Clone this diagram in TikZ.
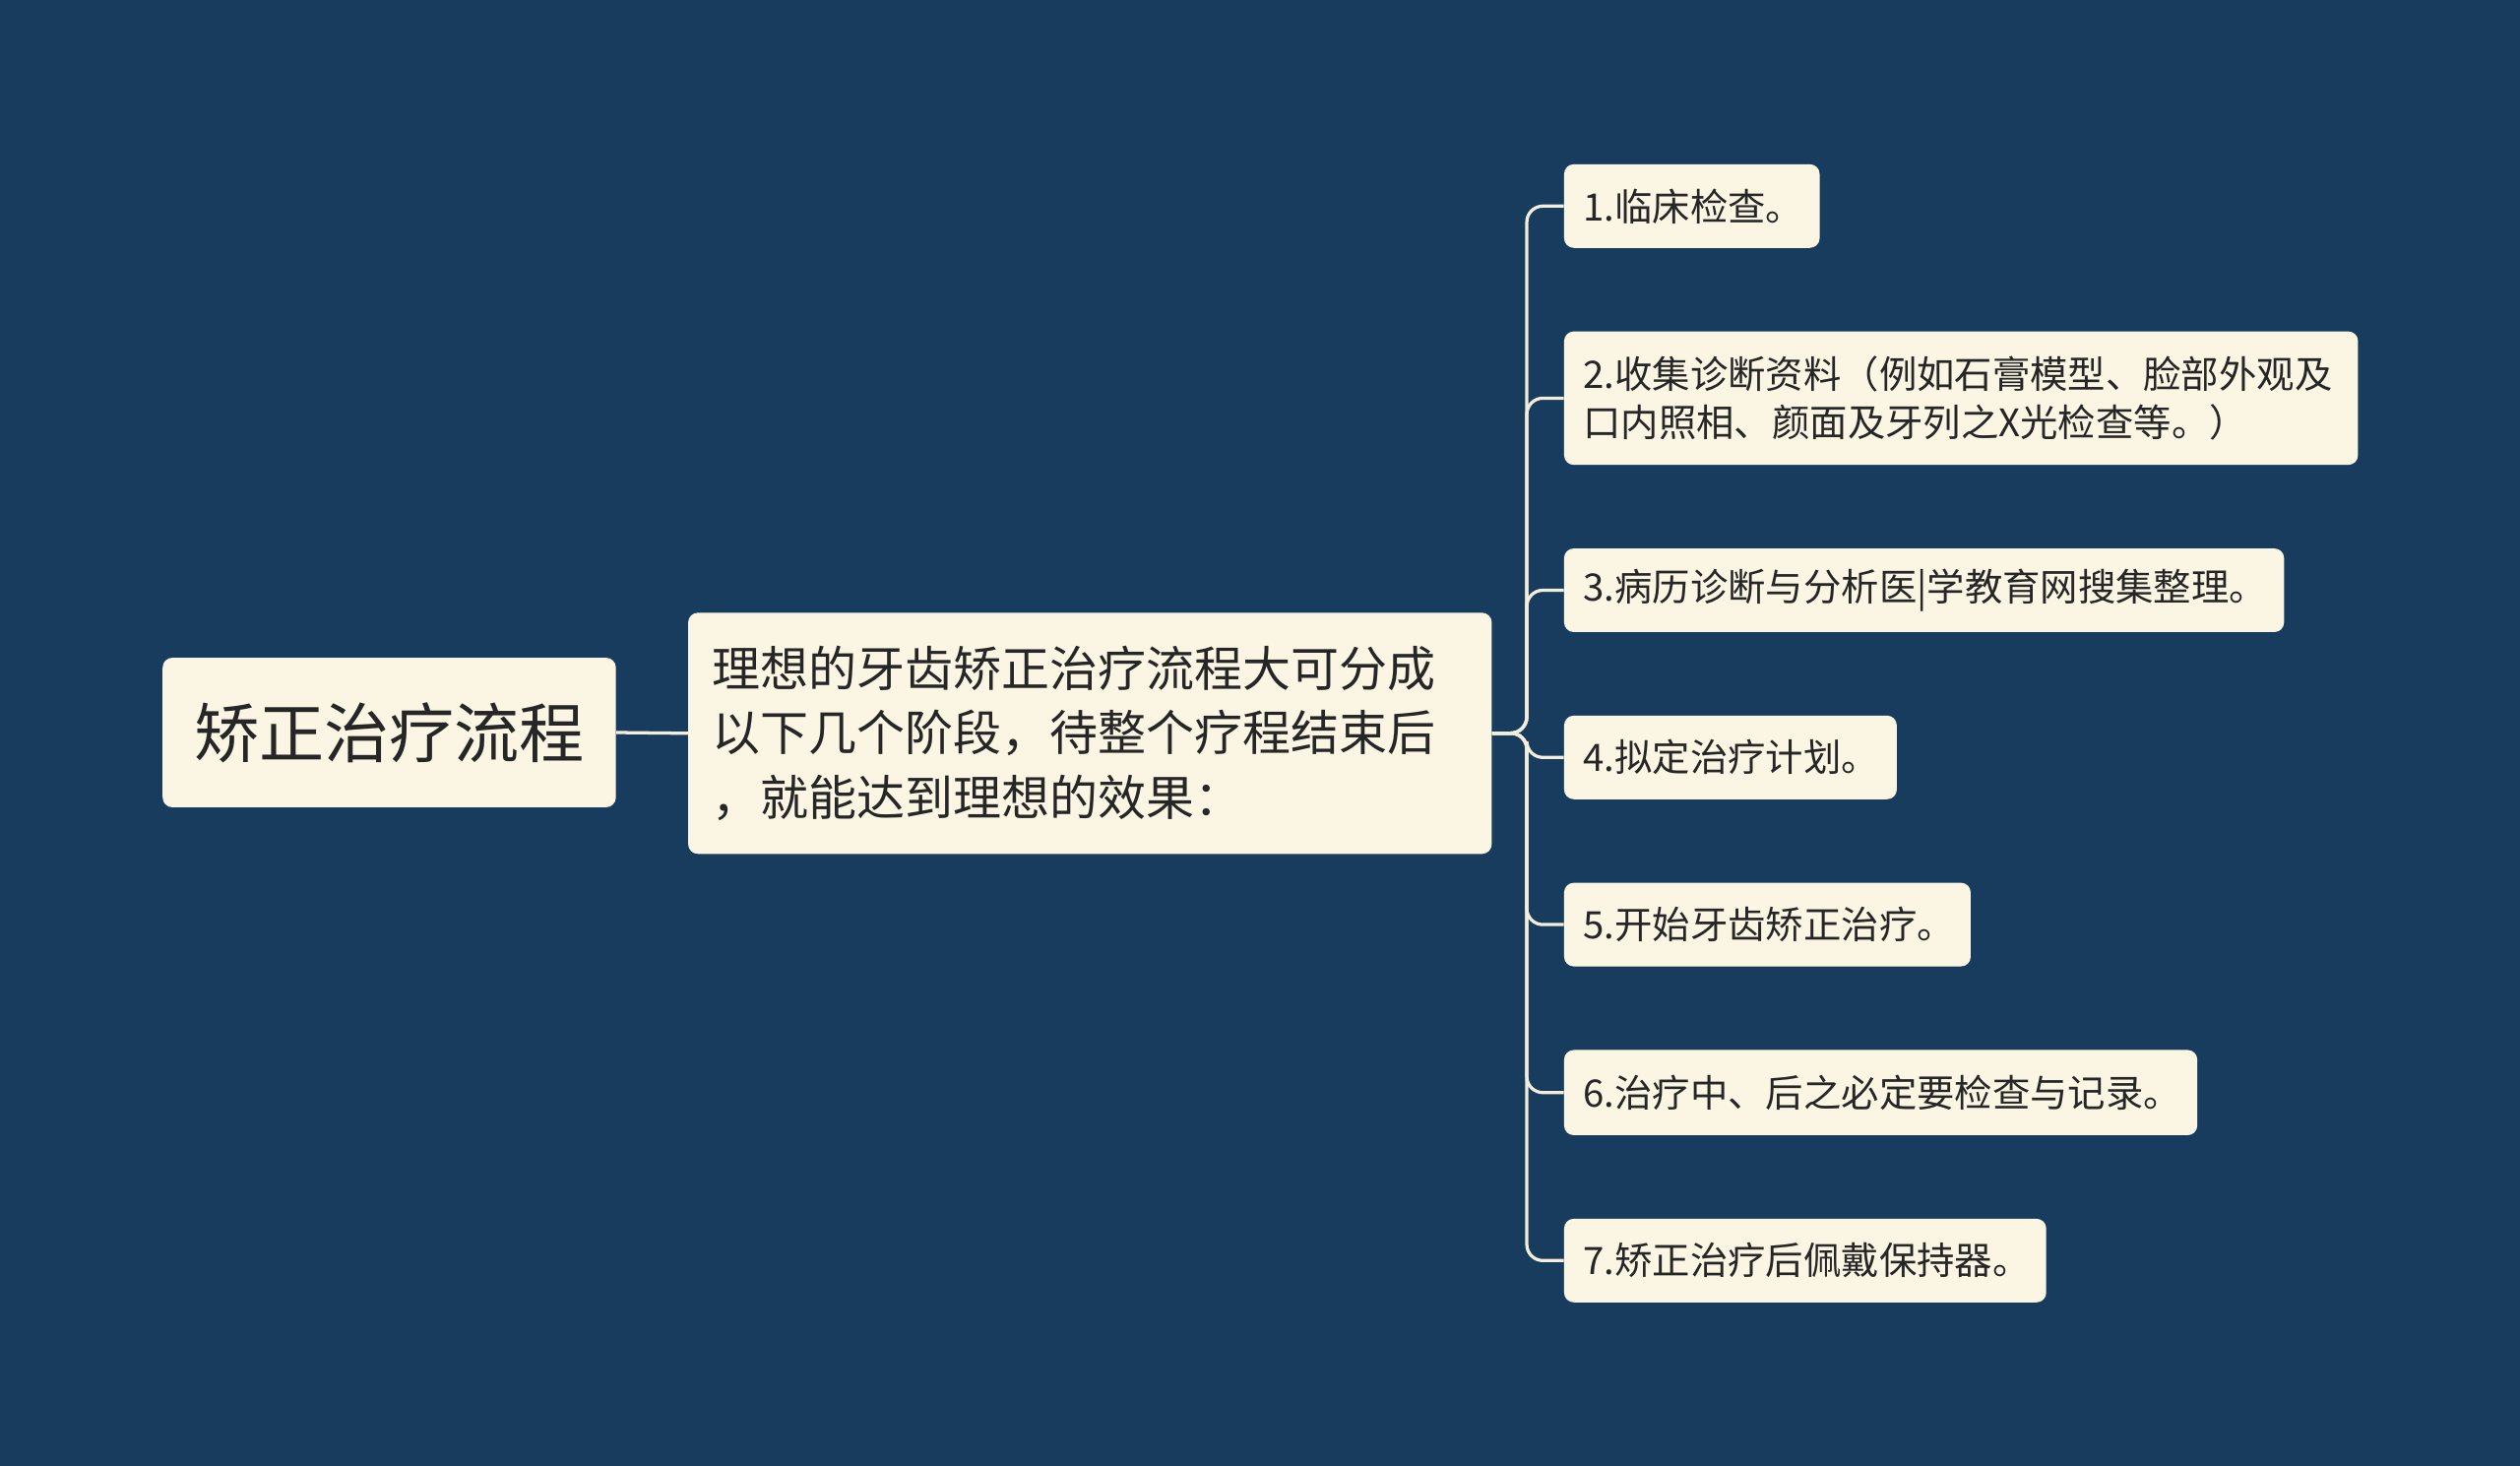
\documentclass[tikz,border=0pt]{standalone}
\usepackage{fontspec}
\setmainfont{Noto Sans CJK SC}
\definecolor{bg}{HTML}{173C5E}
\definecolor{box}{HTML}{FBF5E3}
\definecolor{ln}{HTML}{F3EEDC}
\begin{document}
\begin{tikzpicture}[x=1pt,y=-1pt,
  bx/.style={fill=box,rounded corners=6pt,inner sep=0pt,anchor=north west,text=black!85},
  conn/.style={draw=ln,line width=2pt,rounded corners=10pt}]
\fill[bg] (0,0) rectangle (1568,912);
\useasboundingbox (0,0) rectangle (1568,912);
\node[bx,minimum width=282pt,minimum height=93pt,font=\fontsize{40.5}{46}\selectfont] (root) at (101,409) {矫正治疗流程};
\node[bx,minimum width=500pt,minimum height=150pt,align=left,font=\fontsize{30}{40}\selectfont,text width=470pt,inner xsep=15pt,inner ysep=0pt] (mid) at (428,381) {理想的牙齿矫正治疗流程大可分成\\以下几个阶段，待整个疗程结束后\\，就能达到理想的效果：};
\tikzset{lf/.style={bx,minimum height=52pt,align=left,font=\fontsize{23.5}{30}\selectfont,text width=#1,inner xsep=12pt}}
\node[lf=135pt] (l1) at (973,102) {1.临床检查。};
\node[lf=470pt,minimum height=83pt] (l2) at (973,206) {2.收集诊断资料（例如石膏模型、脸部外观及\\口内照相、颜面及牙列之X光检查等。）};
\node[lf=424pt] (l3) at (973,341) {3.病历诊断与分析医|学教育网搜集整理。};
\node[lf=183pt] (l4) at (973,445) {4.拟定治疗计划。};
\node[lf=229pt] (l5) at (973,549) {5.开始牙齿矫正治疗。};
\node[lf=370pt,minimum height=53pt] (l6) at (973,653) {6.治疗中、后之必定要检查与记录。};
\node[lf=276pt] (l7) at (973,758) {7.矫正治疗后佩戴保持器。};
\draw[conn] (root.east) -- (mid.west);
\coordinate (bus) at (950,456);
\foreach \n in {l1,l2,l3,l4,l5,l6,l7}
  \draw[conn] (mid.east) -- (bus) |- (\n.west);
\end{tikzpicture}
\end{document}
